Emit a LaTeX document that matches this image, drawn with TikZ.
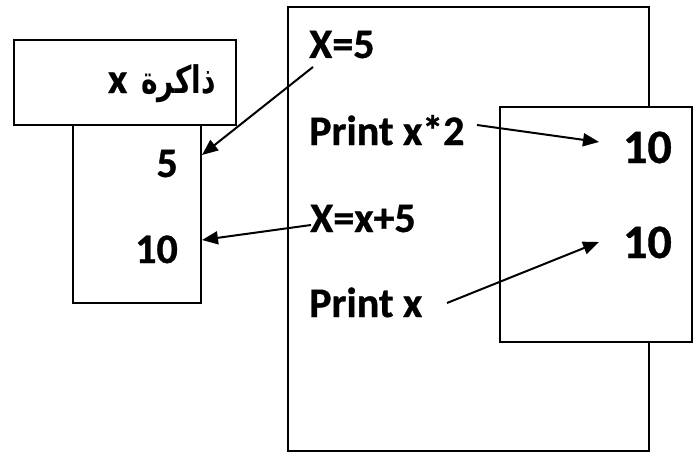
\documentclass[tikz,border=0pt]{standalone}
\usepackage{fontspec}
\setmainfont{Carlito}[BoldFeatures={FakeBold=0.8}]
\newfontfamily\arabicfont[Script=Arabic]{DejaVu Sans}
\TeXXeTstate=1
\usetikzlibrary{arrows.meta}
\begin{document}
\begin{tikzpicture}[x=1pt,y=-1pt,
  box/.style={draw, line width=1.5pt, fill=white, inner sep=0pt, outer sep=0pt, anchor=north west},
  txt/.style={font=\fontsize{42}{42}\selectfont\bfseries, inner sep=0pt, anchor=base west},
  bigtxt/.style={font=\fontsize{48}{48}\selectfont\bfseries, inner sep=0pt, anchor=base east},
  arr/.style={line width=2pt, -{Triangle[length=16pt,width=13pt]}}]
\useasboundingbox (0,0) rectangle (699,452);
% memory
\node[box, minimum width=222pt, minimum height=85pt] (head) at (14,40) {};
\node[box, minimum width=128pt, minimum height=178pt] (mem) at (73,125) {};
\node[txt, anchor=base east] (htxt) at (216,93) {x\hspace{14pt}\scalebox{0.74}[1]{\arabicfont\fontsize{38}{38}\selectfont\beginR ذاكرة\endR}};
\node[txt, anchor=base east] (m1) at (178,177) {5};
\node[txt, anchor=base east] (m2) at (178,263) {10};
% program
\node[box, minimum width=361pt, minimum height=444pt] (prog) at (288,7) {};
\node[box, minimum width=192pt, minimum height=235pt] (out) at (500,107) {};
\node[txt] (a1) at (309,58) {X=5};
\node[txt] (a2) at (309,145) {Print x*2};
\node[txt] (a3) at (310,232) {X=x+5};
\node[txt] (a4) at (309,317) {Print x};
\node[bigtxt] (o1) at (672,163) {10};
\node[bigtxt] (o2) at (672,258) {10};
% arrow ends
\coordinate (s1) at (313,67);  \coordinate (t1) at (202,155);
\coordinate (s2) at (477,125); \coordinate (t2) at (599,142);
\coordinate (s3) at (311,225); \coordinate (t3) at (202,240);
\coordinate (s4) at (447,303); \coordinate (t4) at (599,242);
\draw[arr] (s1) -- (t1);
\draw[arr] (s2) -- (t2);
\draw[arr] (s3) -- (t3);
\draw[arr] (s4) -- (t4);
\end{tikzpicture}
\end{document}
